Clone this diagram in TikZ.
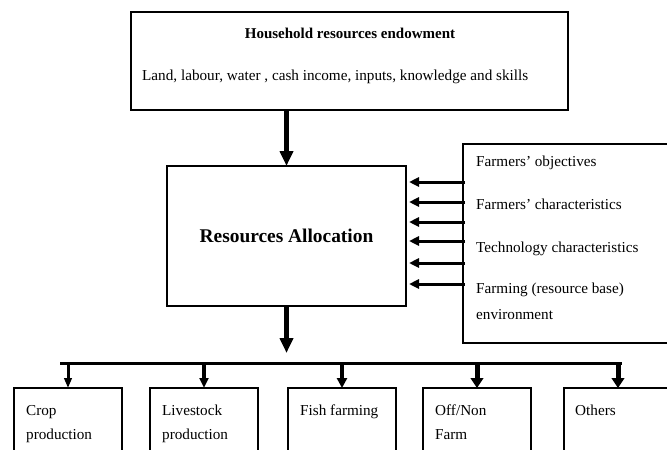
\documentclass[tikz,border=0pt]{standalone}
\usepackage{fontspec}
\setmainfont{Liberation Serif}
\usetikzlibrary{arrows.meta,calc}
\begin{document}
\begin{tikzpicture}[x=1pt,y=-1pt,
  thinbox/.style={draw,line width=1.3pt,inner sep=0pt,outer sep=0pt},
  thickbox/.style={draw,line width=2.8pt,inner sep=0pt,outer sep=0pt},
  body/.style={font=\fontsize{15.2}{18}\selectfont,inner sep=0pt},
  bigarrow/.style={line width=5pt,-{Triangle[length=15pt,width=13pt]}},
  sidearrow/.style={line width=3pt,-{Triangle[length=10pt,width=9pt]}},
  smallarrow/.style={line width=#1,-{Triangle[length=10pt,width=2.5*#1]}},
  smallarrow/.default=3pt,
  outbox/.style={thinbox,anchor=north,minimum width=108pt,minimum height=100pt}]
\useasboundingbox (0,0) rectangle (667,450);
\clip (0,0) rectangle (667,450);
% top box
\node[thinbox,minimum width=437pt,minimum height=98pt] (top) at (349.5,61) {};
\node[font=\bfseries\fontsize{15}{17}\selectfont,inner sep=0pt,anchor=base] (title) at (350,38) {Household resources endowment};
\node[body,anchor=base west] (res) at (142,80) {Land, labour, water , cash income, inputs, knowledge and skills};
% central box
\node[thickbox,minimum width=239pt,minimum height=140pt,font=\bfseries\fontsize{19.4}{22}\selectfont] (ra) at (286.5,236) {Resources Allocation};
% right box
\node[thinbox,anchor=north west,minimum width=212pt,minimum height=199pt] (rb) at (463,144) {};
\node[body,anchor=base west] (f1) at (476,166) {Farmers’ objectives};
\node[body,anchor=base west] (f2) at (476,209) {Farmers’ characteristics};
\node[body,anchor=base west] (f3) at (476,252) {Technology characteristics};
\node[body,anchor=base west] (f4) at (476,293) {Farming (resource base)};
\node[body,anchor=base west] (f5) at (476,319) {environment};
% side arrows
\foreach \yy [count=\i] in {182,202,222,241,263,284}{
  \coordinate (s\i) at (465,\yy);
  \draw[sidearrow,shorten >=3pt] (s\i) -- (ra.east |- s\i);
}
% main arrows
\draw[bigarrow] (ra.north |- top.south) -- (ra.north);
\coordinate (barL) at (60,363);
\coordinate (barR) at (622,363);
\draw[bigarrow,shorten >=10pt] (ra.south) -- (ra.south |- barL);
\draw[line width=3pt] (barL) -- (barR);
% bottom boxes
\node[outbox] (b1) at (68,388) {};
\node[outbox] (b2) at (204,388) {};
\node[outbox] (b3) at (342,388) {};
\node[outbox] (b4) at (477,388) {};
\node[outbox] (b5) at (618,388) {};
\draw[smallarrow=3pt] (b1.north |- barL) -- (b1.north);
\draw[smallarrow=3.5pt] (b2.north |- barL) -- (b2.north);
\draw[smallarrow=4pt] (b3.north |- barL) -- (b3.north);
\draw[smallarrow=5pt] (b4.north |- barL) -- (b4.north);
\draw[smallarrow=5pt] (b5.north |- barL) -- (b5.north);
\node[body,anchor=base west] (t1a) at (26,415) {Crop};
\node[body,anchor=base west] (t1b) at (26,439) {production};
\node[body,anchor=base west] (t2a) at (162,415) {Livestock};
\node[body,anchor=base west] (t2b) at (162,439) {production};
\node[body,anchor=base west] (t3a) at (300,415) {Fish farming};
\node[body,anchor=base west] (t4a) at (435,415) {Off/Non};
\node[body,anchor=base west] (t4b) at (435,439) {Farm};
\node[body,anchor=base west] (t5a) at (575,415) {Others};
\end{tikzpicture}
\end{document}
